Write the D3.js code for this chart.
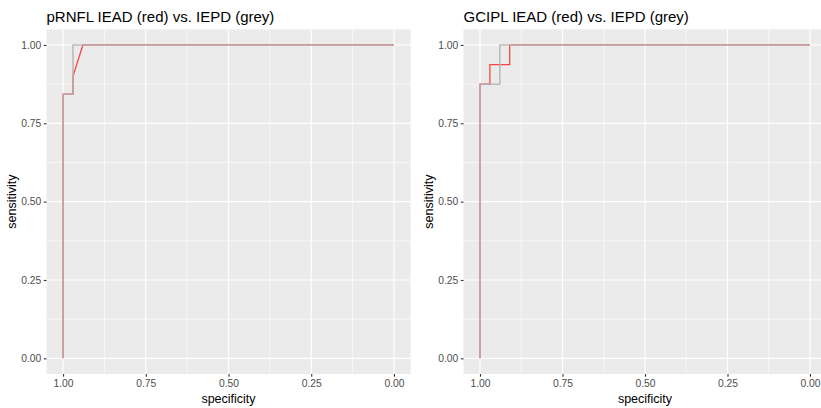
<!DOCTYPE html>
<html><head><meta charset="utf-8">
<script src="https://cdn.jsdelivr.net/npm/d3@7"></script>
<style>body{margin:0;background:#fff}svg{display:block}text{font-family:"Liberation Sans",Arial,Helvetica,sans-serif}</style>
</head><body>
<svg id="c" width="821" height="408"></svg>
<script>
const titles = ["pRNFL IEAD (red) vs. IEPD (grey)", "GCIPL IEAD (red) vs. IEPD (grey)"];
const tickValues = [1, 0.75, 0.5, 0.25, 0];
const tickLabels = ["1.00", "0.75", "0.50", "0.25", "0.00"];
const yTickLabels = ["0.00", "0.25", "0.50", "0.75", "1.00"];
const minorTicks = [0.125, 0.375, 0.625, 0.875];

const pRNFL_IEAD_spec = [1, 1, 0.97, 0.97, 0.94, 0];
const pRNFL_IEAD_sens = [0, 0.843, 0.843, 0.90, 1, 1];
const pRNFL_IEPD_spec = [1, 1, 0.97, 0.97, 0];
const pRNFL_IEPD_sens = [0, 0.843, 0.843, 1, 1];
const GCIPL_IEAD_spec = [1, 1, 0.97, 0.97, 0.91, 0.91, 0];
const GCIPL_IEAD_sens = [0, 0.875, 0.875, 0.9375, 0.9375, 1, 1];
const GCIPL_IEPD_spec = [1, 1, 0.94, 0.94, 0];
const GCIPL_IEPD_sens = [0, 0.875, 0.875, 1, 1];

const panels = [
  {title: titles[0], x0: 46.5, x1: 410.5, red: [pRNFL_IEAD_spec, pRNFL_IEAD_sens], grey: [pRNFL_IEPD_spec, pRNFL_IEPD_sens], ytx: 12},
  {title: titles[1], x0: 463.5, x1: 826.5, red: [GCIPL_IEAD_spec, GCIPL_IEAD_sens], grey: [GCIPL_IEPD_spec, GCIPL_IEPD_sens], ytx: 429}
];
const yTop = 29.3, yBot = 374;
const svg = d3.select("#c");

panels.forEach(p => {
  const x = d3.scaleLinear().domain([1.05, -0.05]).range([p.x0, p.x1]);
  const y = d3.scaleLinear().domain([-0.05, 1.05]).range([yBot, yTop]);
  const g = svg.append("g");
  g.append("rect").attr("x", p.x0).attr("y", yTop).attr("width", p.x1 - p.x0).attr("height", yBot - yTop).attr("fill", "#ebebeb");
  minorTicks.forEach(v => {
    g.append("line").attr("x1", x(v)).attr("x2", x(v)).attr("y1", yTop).attr("y2", yBot).attr("stroke", "#fff").attr("stroke-width", 0.6);
    g.append("line").attr("y1", y(v)).attr("y2", y(v)).attr("x1", p.x0).attr("x2", p.x1).attr("stroke", "#fff").attr("stroke-width", 0.6);
  });
  tickValues.forEach(v => {
    g.append("line").attr("x1", x(v)).attr("x2", x(v)).attr("y1", yTop).attr("y2", yBot).attr("stroke", "#fff").attr("stroke-width", 1.2);
    g.append("line").attr("y1", y(v)).attr("y2", y(v)).attr("x1", p.x0).attr("x2", p.x1).attr("stroke", "#fff").attr("stroke-width", 1.2);
  });
  const line = d3.line().x(d => x(d[0])).y(d => y(d[1]));
  const redPts = p.red[0].map((s, i) => [s, p.red[1][i]]);
  const greyPts = p.grey[0].map((s, i) => [s, p.grey[1][i]]);
  g.append("path").attr("d", line(redPts)).attr("fill", "none").attr("stroke", "#ff0000").attr("stroke-opacity", 0.7).attr("stroke-width", 1.3);
  g.append("path").attr("d", line(greyPts)).attr("fill", "none").attr("stroke", "#b0b0b0").attr("stroke-opacity", 0.85).attr("stroke-width", 1.5);

  const xa = d3.axisBottom(x).tickValues(tickValues).tickFormat((d, i) => tickLabels[i]).tickSize(2.7).tickPadding(2.5);
  const gx = g.append("g").attr("transform", `translate(0,${yBot})`).call(xa);
  const ya = d3.axisLeft(y).tickValues([0, 0.25, 0.5, 0.75, 1]).tickFormat((d, i) => yTickLabels[i]).tickSize(2.7).tickPadding(2.5);
  const gy = g.append("g").attr("transform", `translate(${p.x0},0)`).call(ya);
  [gx, gy].forEach(a => {
    a.select(".domain").remove();
    a.selectAll(".tick line").attr("stroke", "#333").attr("stroke-width", 1.1);
    a.selectAll(".tick text").attr("fill", "#4d4d4d").style("font-size", "10.3px").style("font-family", '"Liberation Sans",Arial,sans-serif');
  });
  g.append("text").attr("x", p.x0).attr("y", 22).text(p.title).style("font-size", "15px").attr("fill", "#000");
  g.append("text").attr("x", (x(1) + x(0)) / 2).attr("y", 403).attr("text-anchor", "middle").text("specificity").style("font-size", "12.5px");
  g.append("text").attr("transform", `translate(${p.ytx + 4},${(yTop + yBot) / 2}) rotate(-90)`).attr("text-anchor", "middle").text("sensitivity").style("font-size", "12.5px");
});
</script>
</body></html>
